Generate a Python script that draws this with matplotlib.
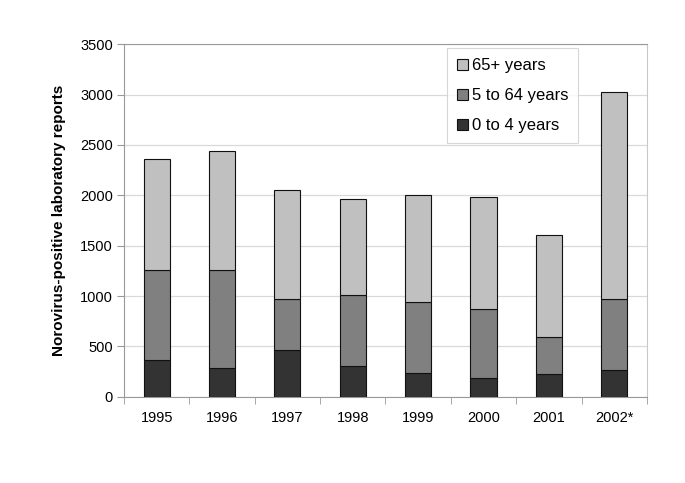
import numpy as np
import matplotlib.pyplot as plt

plt.rcParams['font.family'] = ['Liberation Sans', 'DejaVu Sans']

years = ['1995', '1996', '1997', '1998', '1999', '2000', '2001', '2002*']
totales = [2364, 2437, 2050, 1960, 2007, 1983, 1603, 3030]
hasta_64 = [1255, 1262, 970, 1010, 940, 871, 593, 967]
de_0_a_4 = [364, 285, 467, 301, 235, 182, 222, 265]

edad_0_4 = np.array(de_0_a_4)
edad_5_64 = np.array(hasta_64) - edad_0_4
edad_65 = np.array(totales) - np.array(hasta_64)

fig = plt.figure(figsize=(6.85, 4.83), dpi=100)
ax = fig.add_axes([0.181, 0.1787, 0.7635, 0.7296])

x = np.arange(len(years))
w = 0.4
b1 = ax.bar(x, edad_0_4, w, color='#333333', edgecolor='#111111', linewidth=0.8, zorder=3)
b2 = ax.bar(x, edad_5_64, w, bottom=edad_0_4, color='#808080', edgecolor='#111111', linewidth=0.8, zorder=3)
b3 = ax.bar(x, edad_65, w, bottom=edad_0_4 + edad_5_64, color='#c0c0c0', edgecolor='#111111', linewidth=0.8, zorder=3)

ax.set_xlim(-0.5, len(years) - 0.5)
ax.set_ylim(0, 3500)
ax.set_yticks(np.arange(0, 3501, 500))
ax.yaxis.grid(True, color='#d9d9d9', linewidth=0.9, zorder=0)
ax.set_xticks(x)
ax.set_xticklabels(years)
ax.set_xticks(np.arange(-0.5, len(years), 1), minor=True)
ax.tick_params(axis='x', which='major', length=0, pad=10, labelsize=10.5)
ax.tick_params(axis='x', which='minor', length=5, color='#999999')
ax.tick_params(axis='y', length=5, color='#999999', labelsize=10.5, pad=3)

ax.spines['left'].set_color('#999999')
ax.spines['bottom'].set_color('#999999')
ax.spines['top'].set_color('#999999')
ax.spines['right'].set_color('#c8c8c8')

ax.set_ylabel('Norovirus-positive laboratory reports', fontweight='bold', fontsize=11, labelpad=10)

leg = ax.legend([b3, b2, b1], ['65+ years', '5 to 64 years', '0 to 4 years'],
                loc='upper left', bbox_to_anchor=(0.6176, 0.9886), fontsize=12,
                frameon=True, fancybox=False, edgecolor='#cccccc', handlelength=0.65,
                handleheight=0.65, handletextpad=0.25, labelspacing=0.9, borderpad=0.6,
                borderaxespad=0)
leg.get_frame().set_linewidth(0.8)

plt.savefig('out.png', dpi=100)
